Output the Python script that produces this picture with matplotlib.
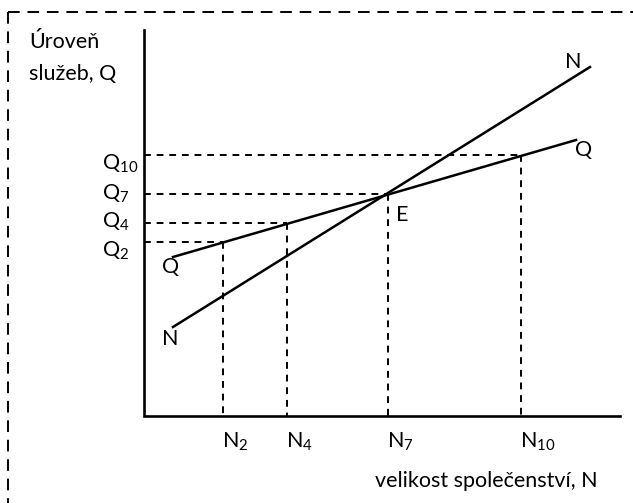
import matplotlib
matplotlib.use("Agg")
import matplotlib.pyplot as plt

plt.rcParams['font.family'] = ['Lato', 'DejaVu Sans']
plt.rcParams['mathtext.fontset'] = 'custom'
plt.rcParams['mathtext.rm'] = 'Lato'
plt.rcParams['mathtext.it'] = 'Lato:italic'
plt.rcParams['mathtext.default'] = 'regular'

# diagram in pixel-like units (y grows downward)
axis_origin = (144, 416)
axis_top = 30
axis_right = 620

# Q curve (service level) and N curve (community size)
q_curve_x = [173, 576]
q_curve_y = [257, 140]
n_curve_x = [173, 590]
n_curve_y = [327, 67]

# guide points lying on the Q curve
guide_x = [223, 287, 388, 521]
guide_y = [242, 223, 194, 155]
n_labels = ['N$_{2}$', 'N$_{4}$', 'N$_{7}$', 'N$_{10}$']
q_labels = ['Q$_{2}$', 'Q$_{4}$', 'Q$_{7}$', 'Q$_{10}$']
q_label_base = [257, 228, 200, 170]

fig = plt.figure(figsize=(6.33, 5.03), dpi=100)
ax = fig.add_axes([0, 0, 1, 1])
ax.set_xlim(0, 633)
ax.set_ylim(503, 0)
ax.axis('off')

# dashed frame (runs off the right and bottom edges)
ax.plot([8, 640], [12, 12], color='black', lw=1.4, linestyle=(0, (6, 4)))
ax.plot([8, 8], [12, 510], color='black', lw=1.4, linestyle=(0, (6, 4)))

# axes
x0, y0 = axis_origin
ax.plot([x0, x0, axis_right], [axis_top, y0, y0], color='black', lw=1.9,
        solid_joinstyle='miter')

# guides
for gx, gy in zip(guide_x, guide_y):
    ax.plot([x0, gx], [gy, gy], color='black', lw=1.4, linestyle=(0, (3.5, 3)))
    ax.plot([gx, gx], [gy, y0], color='black', lw=1.4, linestyle=(0, (3.5, 3)))

# curves
ax.plot(q_curve_x, q_curve_y, color='black', lw=1.8)
ax.plot(n_curve_x, n_curve_y, color='black', lw=1.8)

fs = 15.5
for gx, lab in zip(guide_x, n_labels):
    ax.text(gx - 1, 448, lab, fontsize=fs, ha='left', va='baseline')
for yb, lab in zip(q_label_base, q_labels):
    ax.text(102, yb, lab, fontsize=fs, ha='left', va='baseline')

ax.text(171, 273, 'Q', fontsize=fs, ha='center', va='baseline')
ax.text(170, 345, 'N', fontsize=fs, ha='center', va='baseline')
ax.text(584, 156, 'Q', fontsize=fs, ha='center', va='baseline')
ax.text(573, 68, 'N', fontsize=fs, ha='center', va='baseline')
ax.text(402, 221, 'E', fontsize=fs, ha='center', va='baseline')

ax.text(29, 48, 'Úroveň', fontsize=fs, ha='left', va='baseline')
ax.text(29, 80, 'služeb, Q', fontsize=fs, ha='left', va='baseline')
ax.text(486, 487, 'velikost společenství, N', fontsize=fs, ha='center', va='baseline')

fig.savefig('out.png', dpi=100)
